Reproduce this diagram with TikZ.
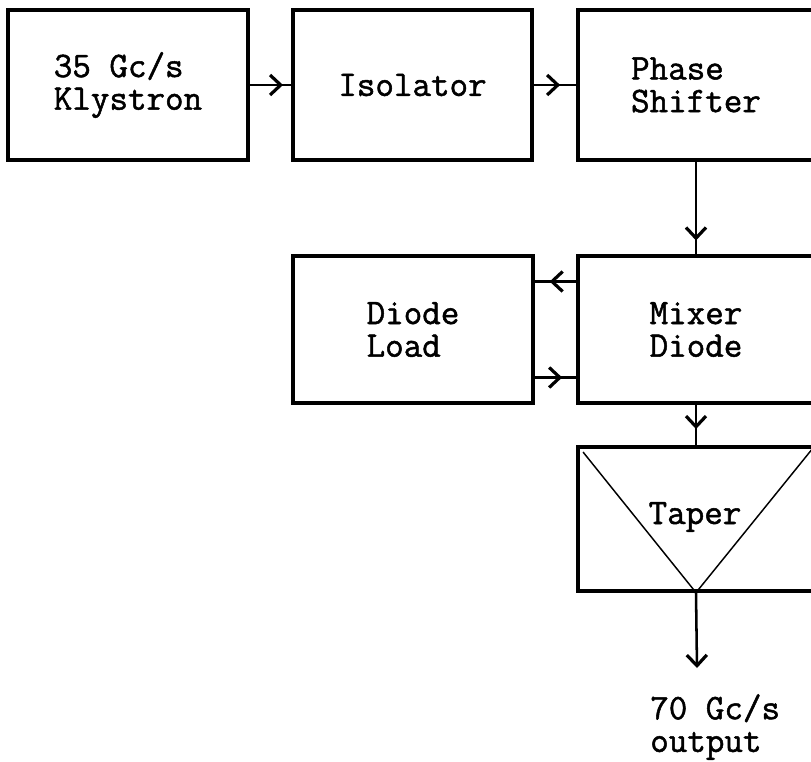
\documentclass[tikz,border=0pt]{standalone}
\usepackage{fontspec}
\newfontfamily\tw[FakeBold=1.4]{Latin Modern Mono}
\usetikzlibrary{arrows.meta,decorations.markings}
\tikzset{
  txt/.style={font=\tw\fontsize{27}{24.5}\selectfont},
  blk/.style={draw, line width=2.4pt, minimum width=#1, minimum height=112.5pt, inner sep=0pt, align=left, txt},
  blk/.default=180pt,
  wire/.style={line width=2.2pt},
  midarrow/.style={postaction={decorate}, decoration={markings,
    mark=at position #1 with {\arrow{Straight Barb[length=8pt,width=15pt,line width=2.4pt]}}}},
  thinline/.style={line width=1.1pt}
}
\begin{document}
\begin{tikzpicture}[x=0.75pt,y=-0.75pt]
\useasboundingbox (0,0) rectangle (811,761);
\clip (0,0) rectangle (811,761);
\node[blk] (klys) at (128,85) {35 Gc/s\\Klystron};
\node[blk=179.25pt] (iso) at (412.5,85) {Isolator};
\node[blk=177pt] (phase) at (696,85) {Phase\\Shifter};
\node[blk, minimum height=110.25pt] (load) at (413,329.5) {Diode\\Load};
\node[blk=177pt, minimum height=110.25pt] (mixer) at (696,329.5) {Mixer\\Diode};
\node[blk=177pt, minimum height=108pt] (taper) at (696,519) {};
\draw[thinline] ([xshift=5pt,yshift=-5pt]taper.north west) -- (taper.south) -- ([xshift=-2pt,yshift=-2pt]taper.north east);
\node[txt, inner sep=1pt] (tlabel) at (695,517) {Taper};
\draw[wire, midarrow=0.8] (klys.east) -- (iso.west);
\draw[wire, midarrow=0.62] (iso.east) -- (phase.west);
\draw[wire, midarrow=0.85] (phase.south) -- (mixer.north);
\draw[wire, midarrow=0.64] ([yshift=36pt]mixer.west) -- ([yshift=36pt]load.east);
\draw[wire, midarrow=0.66] ([yshift=-36pt]load.east) -- ([yshift=-36pt]mixer.west);
\draw[wire, midarrow=0.6] (mixer.south) -- (taper.north);
\coordinate (outtip) at (697,668);
\draw[line width=1.9pt, -{Straight Barb[length=8pt,width=15pt,line width=2.4pt]}] (taper.south) -- (outtip);
\node[anchor=north west, inner sep=0pt, align=left, txt] (out) at (650,694) {70 Gc/s\\output};
\end{tikzpicture}
\end{document}
